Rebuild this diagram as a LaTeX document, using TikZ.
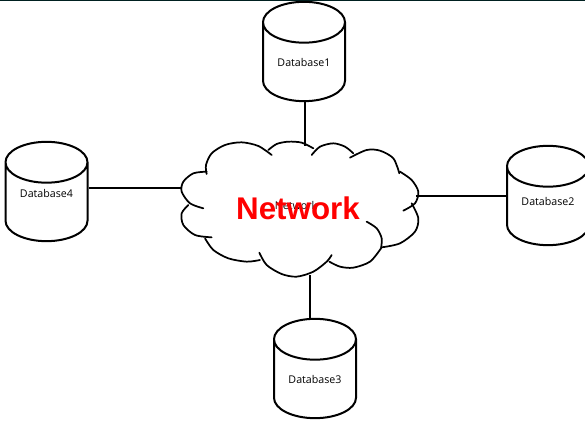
\documentclass[tikz,border=0pt]{standalone}
\usepackage{fontspec}
\setmainfont{Liberation Sans}
\newfontfamily\dbfont{Open Sans}
\usetikzlibrary{shapes.geometric, positioning}

\begin{document}
\begin{tikzpicture}[
  x=0.75pt, y=-0.75pt,
  dbase/.style={cylinder, shape border rotate=90, draw, anchor=shape center, line width=1.5pt, aspect=0.77, minimum width=61.5pt, minimum height=74.5pt, inner sep=0pt, font=\dbfont\fontsize{8}{9}\selectfont},
  cloudline/.style={line width=1.3pt, line cap=round},
  link/.style={line width=1.5pt}
]
  \useasboundingbox (0,0) rectangle (585,434);
  \fill[fill=black!75!teal] (0,0) rectangle (585,1.5);

  \node[dbase] (db1) at (304,51.5) {Database1};
  \node[dbase, text depth=7.5pt] (db2) at (548,195.5) {Database2};
  \node[dbase] (db3) at (315,368.5) {Database3};
  \node[dbase, text depth=13.5pt] (db4) at (46.5,191.5) {Database4};

  % outline of the cloud, lobe by lobe
  \begin{scope}[shift={(170,120)}, x=0.25pt, y=-0.25pt]
    \draw[cloudline] plot[smooth] coordinates {(305,105)(265,78)(215,67)(165,75)(125,100)(108,135)(110,162)};
    \draw[cloudline] plot[smooth] coordinates {(110,155)(70,160)(40,185)(35,215)(60,250)(100,265)};
    \draw[cloudline] plot[smooth] coordinates {(55,255)(35,280)(40,315)(75,345)(125,352)};
    \draw[cloudline] plot[smooth] coordinates {(105,355)(130,390)(175,415)(230,425)(270,420)};
    \draw[cloudline] plot[smooth] coordinates {(268,398)(290,435)(335,462)(380,470)(430,455)(470,425)(485,405)};
    \draw[cloudline] plot[smooth] coordinates {(478,425)(510,440)(550,443)(600,425)(633,385)};
    \draw[cloudline] plot[smooth] coordinates {(590,305)(620,325)(635,355)(633,385)};
    \draw[cloudline] plot[smooth] coordinates {(635,382)(690,370)(735,335)(745,295)(725,250)};
    \draw[cloudline] plot[smooth] coordinates {(700,272)(735,250)(745,215)(725,180)(690,155)};
    \draw[cloudline] plot[smooth] coordinates {(688,160)(670,115)(630,92)(590,90)(540,113)};
    \draw[cloudline] plot[smooth] coordinates {(550,100)(525,80)(490,70)(450,80)(425,105)};
    \draw[cloudline] plot[smooth] coordinates {(430,85)(395,68)(355,65)(320,72)(295,90)};
  \end{scope}

  \coordinate (cl1) at (305,146);
  \coordinate (cl2) at (416,196);
  \coordinate (cl3) at (310,275);
  \coordinate (cl4) at (181,188);

  \node[font=\dbfont\fontsize{8}{9}\selectfont] (nettxt) at (296,206) {Network};
  \node[font=\fontsize{23.5}{26}\bfseries\selectfont, text=red] (net) at (298,208) {Network};

  \draw[link] (cl1 |- db1.south) -- (cl1);
  \draw[link] (cl2 -| db2.west) -- (cl2);
  \draw[link] (cl3 |- db3.north) -- (cl3);
  \draw[link] (cl4 -| db4.east) -- (cl4);
\end{tikzpicture}
\end{document}
